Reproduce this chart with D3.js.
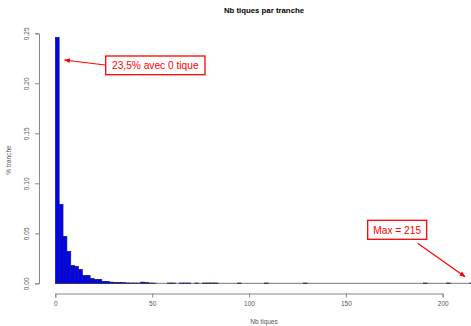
<!DOCTYPE html>
<html>
<head>
<meta charset="utf-8">
<script src="https://cdn.jsdelivr.net/npm/d3@7"></script>
<style>
  body { margin: 0; background: #fff; }
  svg text { font-family: "Liberation Sans", Arial, sans-serif; }
</style>
</head>
<body>
<svg id="chart" width="471" height="326"></svg>
<script>
// Histogram bins (width 2), share of observations per bin
var bin_start = [0, 2, 4, 6, 8, 10, 12, 14, 16, 18, 20, 22, 24, 26, 28, 30, 32, 34, 36, 38, 40, 42, 44, 46, 48, 50,
  58, 60, 64, 66, 68, 72, 76, 78, 80, 82, 94, 108, 128, 190, 202, 214]
var bin_share = [0.246, 0.079, 0.047, 0.032, 0.018, 0.017, 0.014, 0.008, 0.008, 0.005, 0.004, 0.004, 0.002, 0.002,
  0.0012, 0.001, 0.001, 0.0007, 0.0004, 0.0003, 0.0003, 0.0002, 0.0012, 0.0008, 0.0003, 0.0002,
  0.0003, 0.0003, 0.0003, 0.0003, 0.0003, 0.0003, 0.0003, 0.0003, 0.0003, 0.0003, 0.0003, 0.0003, 0.0003,
  0.0003, 0.0003, 0.0003]
var bin_width = 2
var x_ticks = [0, 50, 100, 150, 200]
var y_ticks = [0, 0.05, 0.10, 0.15, 0.20, 0.25]

var svg = d3.select('#chart')

var x = d3.scaleLinear().domain([0, 200]).range([55.3, 442.7])
var y = d3.scaleLinear().domain([0, 0.25]).range([283.3, 33.3])

// Title
svg.append('text')
  .text('Nb tiques par tranche')
  .attr('x', 264).attr('y', 13)
  .attr('text-anchor', 'middle')
  .style('font-size', '7.8px')
  .style('font-weight', 'bold')

// Baseline of empty bins
svg.append('line')
  .attr('x1', x(0)).attr('x2', x(216))
  .attr('y1', y(0)).attr('y2', y(0))
  .attr('stroke', '#777').attr('stroke-width', 1)

// Bars
svg.selectAll('rect.bar')
  .data(bin_start)
  .enter()
  .append('rect')
  .attr('class', 'bar')
  .attr('x', (d, i) => x(d))
  .attr('width', (d, i) => x(d + bin_width) - x(d))
  .attr('y', (d, i) => y(bin_share[i]))
  .attr('height', (d, i) => y(0) - y(bin_share[i]))
  .attr('fill', '#0000ff')
  .attr('stroke', '#1a1a40')
  .attr('stroke-width', 0.6)

// X axis
var x_axis = d3.axisBottom(x).tickValues(x_ticks).tickSize(4).tickFormat(d3.format('d'))
var gx = svg.append('g')
  .attr('transform', 'translate(0,293.5)')
  .call(x_axis)
gx.select('.domain').attr('stroke', '#888')
gx.selectAll('.tick line').attr('stroke', '#888')
gx.selectAll('.tick text')
  .attr('fill', '#555')
  .attr('dy', '0.9em')
  .style('font-size', '6.5px')

// Y axis
var y_axis = d3.axisLeft(y).tickValues(y_ticks).tickSize(4).tickFormat(d3.format('.2f'))
var gy = svg.append('g')
  .attr('transform', 'translate(39,0)')
  .call(y_axis)
gy.select('.domain').attr('stroke', '#888')
gy.selectAll('.tick line').attr('stroke', '#888')
gy.selectAll('.tick text')
  .attr('fill', '#555')
  .attr('x', 0).attr('dy', 0)
  .attr('transform', 'translate(-10,0) rotate(-90)')
  .attr('text-anchor', 'middle')
  .style('font-size', '6.5px')

// Axis labels
svg.append('text')
  .text('Nb tiques')
  .attr('x', 264).attr('y', 324)
  .attr('text-anchor', 'middle')
  .attr('fill', '#555')
  .style('font-size', '6.5px')

svg.append('text')
  .text('% tranche')
  .attr('transform', 'translate(11,160) rotate(-90)')
  .attr('text-anchor', 'middle')
  .attr('fill', '#555')
  .style('font-size', '6.5px')

// Arrow markers
var defs = svg.append('defs')
defs.append('marker')
  .attr('id', 'arrow')
  .attr('viewBox', '0 0 10 10')
  .attr('refX', 9).attr('refY', 5)
  .attr('markerWidth', 5).attr('markerHeight', 5)
  .attr('orient', 'auto')
  .append('path')
  .attr('d', 'M0,1 L10,5 L0,9 z')
  .attr('fill', '#ff0000')

// Annotation: zero ticks
svg.append('line')
  .attr('x1', 105).attr('y1', 65)
  .attr('x2', 64.5).attr('y2', 60)
  .attr('stroke', '#ff0000').attr('stroke-width', 1.2)
  .attr('marker-end', 'url(#arrow)')
svg.append('rect')
  .attr('x', 105.7).attr('y', 56)
  .attr('width', 99.3).attr('height', 18.7)
  .attr('fill', '#fff')
  .attr('stroke', '#ff0000').attr('stroke-width', 1.3)
svg.append('text')
  .text('23,5% avec 0 tique')
  .attr('x', 155.3).attr('y', 69.3)
  .attr('text-anchor', 'middle')
  .attr('fill', '#ff0000')
  .style('font-size', '10.2px')

// Annotation: max
svg.append('line')
  .attr('x1', 417.7).attr('y1', 243.3)
  .attr('x2', 465).attr('y2', 276.7)
  .attr('stroke', '#ff0000').attr('stroke-width', 1.2)
  .attr('marker-end', 'url(#arrow)')
svg.append('rect')
  .attr('x', 367.7).attr('y', 220.3)
  .attr('width', 59).attr('height', 19)
  .attr('fill', '#fff')
  .attr('stroke', '#ff0000').attr('stroke-width', 1.3)
svg.append('text')
  .text('Max = 215')
  .attr('x', 397.2).attr('y', 233.8)
  .attr('text-anchor', 'middle')
  .attr('fill', '#ff0000')
  .style('font-size', '10.2px')
</script>
</body>
</html>
